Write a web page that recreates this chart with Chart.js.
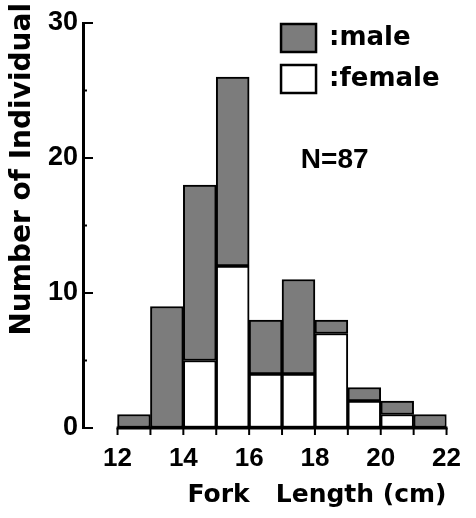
<!DOCTYPE html>
<html>
<head>
<meta charset="utf-8">
<script src="https://cdn.jsdelivr.net/npm/chart.js@4/dist/chart.umd.min.js"></script>
<style>
  html, body { margin: 0; padding: 0; background: #fff; }
  #wrap { width: 476px; height: 518px; }
</style>
</head>
<body>
<div id="wrap"><canvas id="chart" width="476" height="518"></canvas></div>
<script>
// Fork length bins (cm), lower edge of each 1 cm class
var binStarts = [12, 13, 14, 15, 16, 17, 18, 19, 20, 21];
// counts per class
var femaleCounts = [0, 0, 5, 12, 4, 4, 7, 2, 1, 0];
var maleCounts = [1, 9, 13, 14, 4, 7, 1, 1, 1, 1];
var seriesNames = ['male', 'female'];
var totalN = 87;
var yTitle = 'Number of Individual';

// axis ticks
var xTicks = [12, 13, 14, 15, 16, 17, 18, 19, 20, 21, 22];
var yMajor = [0, 10, 20, 30];
var yMinor = [5, 15, 25];

var maleColor = '#7c7c7c';
var femaleColor = '#ffffff';
var ink = '#000000';

var toPoints = function (counts) {
  return counts.map(function (c, i) { return { x: binStarts[i] + 0.5, y: c }; });
};

// draws inward axis ticks, the detached x baseline, legend, y title and N label
var decorations = {
  id: 'decorations',
  afterDraw: function (chart) {
    var ctx = chart.ctx;
    var xs = chart.scales.x, ys = chart.scales.y;
    var base = ys.getPixelForValue(0);
    ctx.save();
    ctx.strokeStyle = ink;
    ctx.lineCap = 'butt';

    // x baseline and tick marks
    ctx.lineWidth = 3;
    ctx.beginPath();
    ctx.moveTo(xs.getPixelForValue(xTicks[0]) - 1, base);
    ctx.lineTo(xs.getPixelForValue(xTicks[xTicks.length - 1]) + 1, base);
    ctx.stroke();
    ctx.lineWidth = 2;
    xTicks.forEach(function (v) {
      var px = xs.getPixelForValue(v);
      ctx.beginPath();
      ctx.moveTo(px, base);
      ctx.lineTo(px, base + 7);
      ctx.stroke();
    });

    // y ticks, pointing inwards
    var left = ys.right;
    yMajor.forEach(function (v) {
      var py = ys.getPixelForValue(v);
      ctx.beginPath();
      ctx.moveTo(left, py);
      ctx.lineTo(left + 10, py);
      ctx.stroke();
    });
    yMinor.forEach(function (v) {
      var py = ys.getPixelForValue(v);
      ctx.beginPath();
      ctx.moveTo(left, py);
      ctx.lineTo(left + 4, py);
      ctx.stroke();
    });

    // y axis title, sits a bit above the plot top like the original
    ctx.fillStyle = ink;
    ctx.font = 'bold 28px "DejaVu Sans"';
    ctx.textAlign = 'right';
    ctx.textBaseline = 'middle';
    ctx.translate(23, chart.chartArea.top - 20);
    ctx.rotate(-Math.PI / 2);
    ctx.fillText(yTitle, 0, 0);
    ctx.setTransform(1, 0, 0, 1, 0, 0);

    // legend
    var lx = xs.getPixelForValue(17) - 1;
    var ly = chart.chartArea.top + 1;
    var fills = [maleColor, femaleColor];
    ctx.font = 'bold 26px "DejaVu Sans"';
    ctx.textBaseline = 'middle';
    ctx.textAlign = 'left';
    seriesNames.forEach(function (name, i) {
      var top = ly + i * 41;
      ctx.fillStyle = fills[i];
      ctx.fillRect(lx, top, 35, 28);
      ctx.lineWidth = 2.5;
      ctx.strokeRect(lx, top, 35, 28);
      ctx.fillStyle = ink;
      ctx.fillText(':' + name, lx + 48, top + 14);
    });

    // sample size
    ctx.font = 'bold 28px "Liberation Sans"';
    ctx.textAlign = 'center';
    ctx.fillText('N=' + totalN, xs.getPixelForValue(18.6), ys.getPixelForValue(19.8));
    ctx.restore();
  }
};

new Chart(document.getElementById('chart'), {
  type: 'bar',
  data: {
    datasets: [
      {
        label: seriesNames[1],
        data: toPoints(femaleCounts),
        backgroundColor: femaleColor,
        borderColor: ink,
        borderWidth: 2,
        borderSkipped: false
      },
      {
        label: seriesNames[0],
        data: toPoints(maleCounts),
        backgroundColor: maleColor,
        borderColor: ink,
        borderWidth: 2,
        borderSkipped: false
      }
    ]
  },
  options: {
    responsive: false,
    animation: false,
    events: [],
    barPercentage: 1,
    categoryPercentage: 1,
    layout: { padding: { top: 23, right: 24, bottom: 0, left: 0 } },
    plugins: { legend: { display: false }, tooltip: { enabled: false } },
    scales: {
      x: {
        type: 'linear',
        stacked: true,
        offset: false,
        min: 10.95,
        max: 22,
        afterBuildTicks: function (scale) {
          scale.ticks = xTicks.map(function (v) { return { value: v }; });
        },
        afterFit: function (scale) { scale.height = 90; },
        grid: { drawOnChartArea: false, drawTicks: false, offset: false },
        border: { display: false },
        ticks: {
          autoSkip: false,
          maxRotation: 0,
          padding: 15,
          color: ink,
          font: { family: 'Liberation Sans', size: 26, weight: 'bold' },
          callback: function (v) { return v % 2 === 0 ? String(v) : ''; }
        },
        title: {
          display: true,
          text: 'Fork   Length (cm)',
          align: 'end',
          color: ink,
          padding: { top: 0, bottom: 8 },
          font: { family: 'DejaVu Sans', size: 25, weight: 'bold' }
        }
      },
      y: {
        stacked: true,
        min: 0,
        max: 30,
        afterFit: function (scale) { scale.width = 83; },
        afterBuildTicks: function (scale) {
          scale.ticks = yMajor.map(function (v) { return { value: v }; });
        },
        grid: { drawOnChartArea: false, drawTicks: false },
        border: { display: true, color: ink, width: 3 },
        ticks: {
          padding: 5,
          color: ink,
          font: { family: 'Liberation Sans', size: 27, weight: 'bold' }
        }
      }
    }
  },
  plugins: [decorations]
});
</script>
</body>
</html>
